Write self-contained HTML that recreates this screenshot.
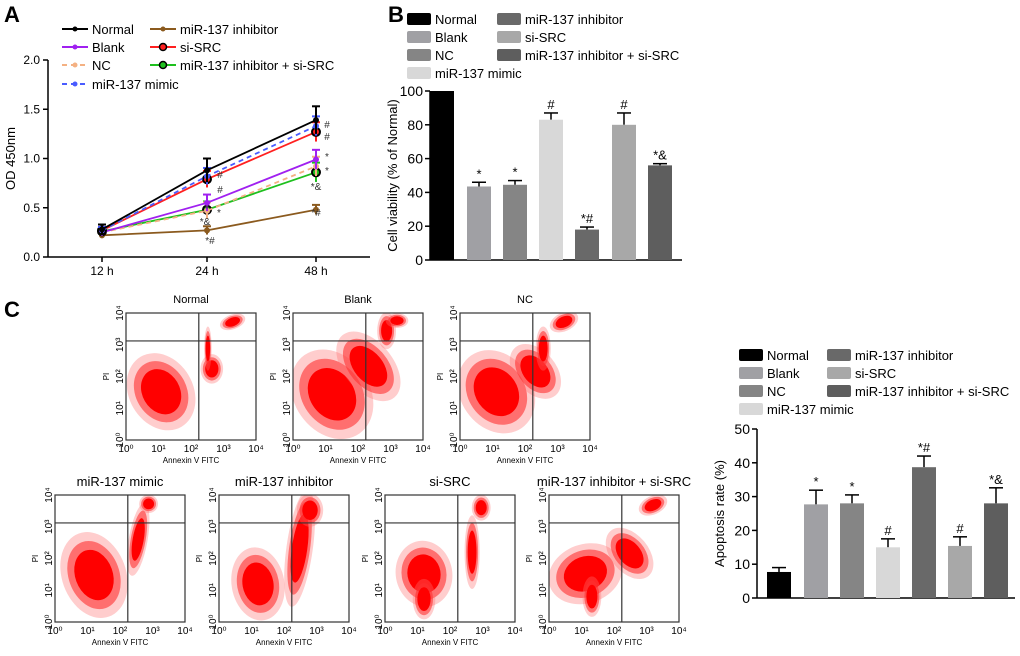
<!DOCTYPE html>
<html><head><meta charset="utf-8"><style>
body{margin:0;background:#fff}
svg text{font-family:"Liberation Sans",Arial,sans-serif}
</style></head><body>
<svg id="s" width="1020" height="651" viewBox="0 0 1020 651" xmlns="http://www.w3.org/2000/svg"></svg>
<script>
// ---- Panel A data
const timeLabels=["12 h","24 h","48 h"];
const aSeries=["Normal","Blank","NC","miR-137 mimic","miR-137 inhibitor","si-SRC","miR-137 inhibitor + si-SRC"];
const aNormal=[0.28,0.88,1.39];
const aBlank=[0.25,0.55,0.99];
const aNC=[0.25,0.47,0.92];
const aMimic=[0.27,0.82,1.33];
const aInhib=[0.22,0.27,0.48];
const aSiSRC=[0.27,0.79,1.27];
const aCombo=[0.26,0.48,0.86];
const aErr=[0.05,0.12,0.14];
const aTicks=[0,0.5,1.0,1.5,2.0];
// ---- Panel B data
const groups=["Normal","Blank","NC","miR-137 mimic","miR-137 inhibitor","si-SRC","miR-137 inhibitor + si-SRC"];
const bVals=[100,43.5,44.5,83,18,80,56];
const bErr=[0,2.5,2.5,4,1.5,7,1];
const bMarks=["","*","*","#","*#","#","*&"];
const bTicks=[0,20,40,60,80,100];
// ---- Panel C bar data
const cVals=[7.7,27.7,28,15,38.7,15.4,28];
const cErr=[1.3,4.2,2.5,2.5,3.3,2.7,4.6];
const cMarks=["","*","*","#","*#","#","*&"];
const cTicks=[0,10,20,30,40,50];

const S=document.getElementById('s');const NS="http://www.w3.org/2000/svg";
function el(t,a,p){const e=document.createElementNS(NS,t);for(const k in a)e.setAttribute(k,a[k]);(p||S).appendChild(e);return e;}
function tx(x,y,s,size,anchor,extra,p){const e=el('text',Object.assign({x:x,y:y,'font-size':size,'text-anchor':anchor||'start',fill:'#000'},extra||{}),p);e.textContent=s;return e;}
const colorsBar=["#000","#a0a0a4","#858585","#d8d8d8","#696969","#a8a8a8","#5e5e5e"];

let t=tx(4,22,"A",22,'start',{'font-weight':'bold'});
t=tx(388,22,"B",22,'start',{'font-weight':'bold'});
t=tx(4,317,"C",22,'start',{'font-weight':'bold'});

// ---- Panel A
const ax0=48,ay0=257,ayPer=98.5;const axX=[102,207,316];
const AY=v=>ay0-v*ayPer;
const ga=el('g',{});
el('line',{x1:ax0,y1:AY(2),x2:ax0,y2:ay0,stroke:'#000','stroke-width':1.5},ga);
el('line',{x1:ax0,y1:ay0,x2:370,y2:ay0,stroke:'#000','stroke-width':1.5},ga);
aTicks.forEach(v=>{el('line',{x1:ax0-5,y1:AY(v),x2:ax0,y2:AY(v),stroke:'#000','stroke-width':1.5},ga);tx(ax0-8,AY(v)+4,v.toFixed(1),12,'end',{},ga);});
timeLabels.forEach((l,i)=>{el('line',{x1:axX[i],y1:ay0,x2:axX[i],y2:ay0+5,stroke:'#000','stroke-width':1.5},ga);tx(axX[i],ay0+18,l,12,'middle',{},ga);});
t=tx(0,0,"OD 450nm",13,'middle',{transform:`translate(15,${AY(1)}) rotate(-90)`},ga);
const aData=[aNormal,aBlank,aNC,aMimic,aInhib,aSiSRC,aCombo];
const aCol=["#000","#a020f0","#f4b183","#4a5cff","#8b5a1e","#ff2020","#1ec01e"];
const aDash=["","","5,4","5,4","","",""];
const drawOrder=[4,6,2,1,5,3,0];
drawOrder.forEach(si=>{
 const d=aData[si];const g=el('g',{},ga);
 d.forEach((v,i)=>{const e=aErr[i]*(si==4?0.5:1)*(si==0?1:0.7);el('line',{x1:axX[i],y1:AY(v-e),x2:axX[i],y2:AY(v+e),stroke:aCol[si],'stroke-width':2},g);el('line',{x1:axX[i]-4,y1:AY(v+e),x2:axX[i]+4,y2:AY(v+e),stroke:aCol[si],'stroke-width':2},g);});
 el('polyline',{points:d.map((v,i)=>axX[i]+','+AY(v)).join(' '),fill:'none',stroke:aCol[si],'stroke-width':1.8,'stroke-dasharray':aDash[si]},g);
 d.forEach((v,i)=>{if(si==5||si==6){el('circle',{cx:axX[i],cy:AY(v),r:4,fill:aCol[si],stroke:'#000','stroke-width':2},g);}else el('circle',{cx:axX[i],cy:AY(v),r:3,fill:aCol[si]},g);});
});
[[220,178,"#"],[220,193,"#"],[207,212,"*"],[219,216,"*"],[205,225,"*&"],[210,244,"*#"],[327,128,"#"],[327,140,"#"],[327,160,"*"],[327,174,"*"],[316,190,"*&"],[316,216,"*#"]].forEach(a=>{tx(a[0],a[1],a[2],10,'middle',{fill:'#333'},ga);});
const legA=[[62,29,0],[62,47,1],[62,65,2],[62,84,3],[150,29,4],[150,47,5],[150,65,6]];
legA.forEach(l=>{const g=el('g',{},ga);const c=aCol[l[2]];
 el('line',{x1:l[0],y1:l[1],x2:l[0]+26,y2:l[1],stroke:c,'stroke-width':2,'stroke-dasharray':aDash[l[2]]},g);
 el('circle',{cx:l[0]+13,cy:l[1],r:(l[2]==5||l[2]==6)?3.5:2.5,fill:c,stroke:(l[2]==5||l[2]==6)?'#000':'none','stroke-width':1.5},g);
 tx(l[0]+30,l[1]+5,aSeries[l[2]],13,'start',{},g);});

function barChart(name,x0,y0,yTop,max,xEnd,centers,vals,errs,marks,ticks,title,legX1,legX2,legY){
 const g=el('g',{});
 const Y=v=>y0-(v/max)*(y0-yTop);
 el('line',{x1:x0,y1:yTop,x2:x0,y2:y0,stroke:'#000','stroke-width':1.5},g);
 el('line',{x1:x0,y1:y0,x2:xEnd,y2:y0,stroke:'#000','stroke-width':1.5},g);
 ticks.forEach(v=>{el('line',{x1:x0-5,y1:Y(v),x2:x0,y2:Y(v),stroke:'#000','stroke-width':1.5},g);const tt=tx(x0-7,Y(v)+5,String(v),14,'end',{},g);});
 const tl=tx(0,0,title,13,'middle',{transform:`translate(${x0-33},${(y0+yTop)/2}) rotate(-90)`},g);
 vals.forEach((v,i)=>{const c=centers[i];
  if(errs[i]>0){el('line',{x1:c,y1:Y(v),x2:c,y2:Y(v+errs[i]),stroke:'#000','stroke-width':1.5},g);el('line',{x1:c-7,y1:Y(v+errs[i]),x2:c+7,y2:Y(v+errs[i]),stroke:'#000','stroke-width':1.5},g);}
  const r=el('rect',{x:c-12,y:Y(v),width:24,height:y0-Y(v),fill:colorsBar[i]},g);
  if(marks[i]){const m=tx(c,Y(v+errs[i])-4,marks[i],13,'middle',{},g);}
 });
 const pos=[[legX1,0],[legX1,1],[legX1,2],[legX1,3],[legX2,0],[legX2,1],[legX2,2]];
 pos.forEach((p,i)=>{const lg=el('g',{},g);const yy=legY+p[1]*18;
  el('rect',{x:p[0],y:yy-6,width:24,height:12,rx:2,fill:colorsBar[i]},lg);tx(p[0]+28,yy+5,groups[i],13,'start',{},lg);});
}
barChart('bar-chart-viability',430,260,91,100,682,[442,479,515,551,587,624,660],bVals,bErr,bMarks,bTicks,'Cell viability (% of Normal)',407,497,19);
barChart('bar-chart-apoptosis',757,598,429,50,1015,[779,816,852,888,924,960,996],cVals,cErr,cMarks,cTicks,'Apoptosis  rate (%)',739,827,355);

// ---- flow cytometry plots
const flowTitles=["Normal","Blank","NC","miR-137 mimic","miR-137 inhibitor","si-SRC","miR-137 inhibitor + si-SRC"];
const flowBox=[[126,313],[293,313],[460,313],[55,495],[219,495],[385,495],[549,495]];
const flowClusters=[
 [[0.27,0.62,0.17,0.22,-30],[0.66,0.44,0.06,0.08,0],[0.82,0.07,0.07,0.04,-20],[0.63,0.28,0.02,0.12,0]],
 [[0.3,0.64,0.2,0.26,-35],[0.58,0.42,0.13,0.22,-40],[0.72,0.14,0.05,0.1,0],[0.8,0.06,0.06,0.04,0]],
 [[0.28,0.62,0.19,0.24,-35],[0.58,0.46,0.11,0.17,-40],[0.8,0.07,0.08,0.05,-25],[0.64,0.28,0.04,0.12,0]],
 [[0.3,0.63,0.17,0.24,-20],[0.64,0.35,0.05,0.2,10],[0.72,0.07,0.05,0.05,0]],
 [[0.3,0.7,0.14,0.2,-10],[0.62,0.42,0.07,0.32,8],[0.7,0.12,0.07,0.09,0]],
 [[0.3,0.62,0.15,0.18,-10],[0.3,0.82,0.06,0.11,0],[0.67,0.45,0.04,0.2,0],[0.74,0.1,0.05,0.07,0]],
 [[0.28,0.62,0.2,0.16,-20],[0.62,0.46,0.1,0.16,-40],[0.8,0.08,0.08,0.05,-25],[0.33,0.8,0.05,0.11,0]]
];
const xDiv=0.56,yDiv=0.22,W=130,H=127;
flowBox.forEach((b,i)=>{
 const g=el('g',{});
 const [x,y]=b;
 tx(x+W/2,y-(i<3?10:9),flowTitles[i],i<3?11:13,'middle',{},g);
 const cp=el('clipPath',{id:'c'+i},g);el('rect',{x:x,y:y,width:W,height:H},cp);
 const cg=el('g',{'clip-path':`url(#c${i})`},g);
 flowClusters[i].forEach(c=>{const cx=x+c[0]*W,cy=y+c[1]*H,tr=`rotate(${c[4]} ${cx} ${cy})`;
  el('ellipse',{cx:cx,cy:cy,rx:c[2]*W*1.45,ry:c[3]*H*1.45,fill:'#ff7070',opacity:0.35,transform:tr},cg);
  el('ellipse',{cx:cx,cy:cy,rx:c[2]*W*1.15,ry:c[3]*H*1.15,fill:'#ff3030',opacity:0.6,transform:tr},cg);
  el('ellipse',{cx:cx,cy:cy,rx:c[2]*W*0.85,ry:c[3]*H*0.85,fill:'#ff0000',transform:tr},cg);});
 el('rect',{x:x,y:y,width:W,height:H,fill:'none',stroke:'#333','stroke-width':1.2},g);
 el('line',{x1:x+xDiv*W,y1:y,x2:x+xDiv*W,y2:y+H,stroke:'#333','stroke-width':1.2},g);
 el('line',{x1:x,y1:y+yDiv*H,x2:x+W,y2:y+yDiv*H,stroke:'#333','stroke-width':1.2},g);
 const sup=['⁰','¹','²','³','⁴'];
 for(let k=0;k<5;k++){tx(x+k*W/4,y+H+12,'10'+sup[k],10,'middle',{},g);
  tx(0,0,'10'+sup[k],10,'middle',{transform:`translate(${x-3},${y+H-k*H/4}) rotate(-90)`},g);}
 tx(x+W/2,y+H+23,'Annexin V FITC',8,'middle',{},g);
 tx(0,0,'PI',8,'middle',{transform:`translate(${x-17},${y+H/2}) rotate(-90)`},g);
});
</script>
</body></html>
